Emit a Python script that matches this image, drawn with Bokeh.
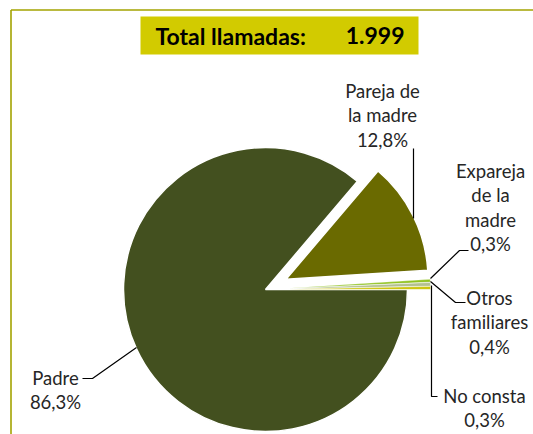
import numpy as np
from bokeh.plotting import figure
from bokeh.embed import file_html
from bokeh.resources import INLINE
from bokeh.core.properties import value
from bokeh.models import Range1d, ColumnDataSource

# ---- data ----
categories = ["Padre", "Pareja de la madre", "Expareja de la madre", "Otros familiares", "No consta"]
label_lines = [["Padre"], ["Pareja de", "la madre"], ["Expareja", "de la", "madre"],
               ["Otros", "familiares"], ["No consta"]]
values = [86.3, 12.8, 0.3, 0.4, 0.3]
colors = ["#43501F", "#6A6A00", "#8FC21E", "#B3C090", "#C9C300"]
total_calls = 1999
title_text = "Total llamadas:"

# ---- layout (pixel-like space, y measured from top) ----
W, H = 533, 434
def Y(v):
    return H - v

CX, CY, R = 265, 289, 142
explode = [0, 23, 23, 23, 23]
FONT = "Lato"
FS = "18.5px"
LH = 24.5
label_pos = [(55, 377), (382, 90), (490, 170), (489, 297), (484, 395)]
leaders = [
    ([136, 92, 82], [347, 378, 378]),
    ([413, 413], [218, 148]),
    ([430, 459, 468], [278, 250, 250]),
    ([430, 455, 465], [281, 302, 302]),
    ([431, 431, 437], [285, 396, 396]),
]

vals = np.array(values, dtype=float)
frac = vals / vals.sum()
edges = np.concatenate([[0.0], np.cumsum(frac)]) * 2 * np.pi
start = -edges[1:]
end = -edges[:-1]
mid = (start + end) / 2
ex = np.array(explode, dtype=float)
xs = CX + ex * np.cos(mid)
ys = Y(CY) + ex * np.sin(mid)
lw = [1.5, 1.5, 0.3, 0.3, 0.3]

src = ColumnDataSource(dict(x=xs, y=ys, start=start, end=end, color=colors, cat=categories, lw=lw))

p = figure(width=W, height=H, x_range=Range1d(0, W), y_range=Range1d(0, H),
           output_backend="svg", toolbar_location=None,
           x_axis_location=None, y_axis_location=None, min_border=0)
p.outline_line_color = None
p.xgrid.visible = False
p.ygrid.visible = False
p.background_fill_color = "white"

# frame lines
p.line([10.5, W], [Y(9.5), Y(9.5)], line_color="#A3A300", line_width=1.6)
p.line([10.5, 10.5], [0, Y(9.5)], line_color="#A3A300", line_width=1.6)

p.wedge(x="x", y="y", radius=R, start_angle="start", end_angle="end",
        direction="anticlock", fill_color="color", line_color="white",
        line_width="lw", source=src)

# title box
p.quad(left=[140], right=[418], bottom=[Y(54)], top=[Y(16)], fill_color="#D2CB00", line_color=None)
p.text(x=[155], y=[Y(35)], text=[title_text], text_font=value(FONT), text_font_style="bold",
       text_font_size="23px", text_color="black", text_align="left", text_baseline="middle")
p.text(x=[404], y=[Y(35)], text=["{:,}".format(total_calls).replace(",", ".")],
       text_font=value(FONT), text_font_style="bold",
       text_font_size="23px", text_color="black", text_align="right", text_baseline="middle")

# leaders
for lx, ly in leaders:
    p.line(lx, [Y(v) for v in ly], line_color="black", line_width=1.2)

# labels
for lines, v, (lx, ly) in zip(label_lines, values, label_pos):
    all_lines = lines + ["{:.1f}".format(v).replace(".", ",") + "%"]
    for i, t in enumerate(all_lines):
        p.text(x=[lx], y=[Y(ly + i * LH)], text=[t], text_font=value(FONT), text_font_size=FS,
               text_color="#262626", text_align="center", text_baseline="middle")

open("out.html", "w").write(file_html(p, INLINE))
